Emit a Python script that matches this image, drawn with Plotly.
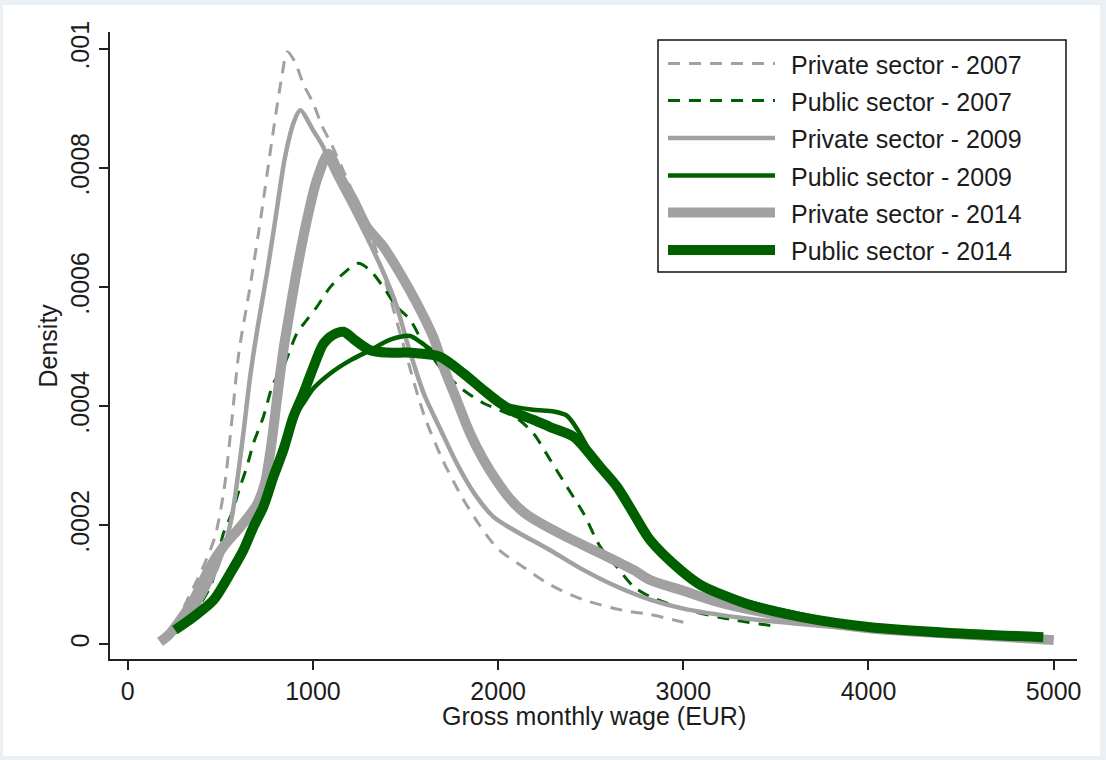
import plotly.graph_objects as go

# Kernel density estimates of gross monthly wages (EUR), by sector and year
priv07_w = [174, 250, 330, 400, 470, 520, 560, 600, 660, 720, 780, 830, 862, 900, 950, 1000, 1050,
            1100, 1200, 1300, 1400, 1500, 1600, 1700, 1800, 1900, 2000, 2135, 2281, 2459, 2675, 2821, 3000]
priv07_d = [0.000005, 0.00003, 0.00008, 0.000125, 0.00018, 0.00026, 0.00037, 0.00049, 0.0006, 0.00072,
            0.00085, 0.00095, 0.000995, 0.00098, 0.00094, 0.00091, 0.00087, 0.00084, 0.00077, 0.0007,
            0.0006, 0.00049, 0.000385, 0.00031, 0.00025, 0.0002, 0.00016, 0.00013, 0.0001, 0.000075,
            0.000057, 0.00005, 0.000037]

pub07_w = [250, 350, 450, 516, 562, 607, 643, 678, 732, 786, 840, 913, 967, 1021, 1093, 1165, 1245,
           1309, 1380, 1453, 1525, 1597, 1700, 1800, 1921, 2011, 2100, 2191, 2281, 2371, 2461, 2551,
           2641, 2731, 2821, 3000, 3200, 3500]
pub07_d = [0.00002, 0.00005, 0.0001, 0.000186, 0.00022, 0.000265, 0.000298, 0.000337, 0.000382,
           0.000438, 0.000466, 0.000522, 0.000545, 0.000567, 0.0006, 0.000623, 0.00064, 0.000628,
           0.0006, 0.000567, 0.000545, 0.000505, 0.00046, 0.00043, 0.000405, 0.000393, 0.00038,
           0.000354, 0.00031, 0.000265, 0.00022, 0.000164, 0.00013, 0.000097, 0.00008, 0.00006,
           0.000045, 0.00003]

priv09_w = [200, 250, 336, 444, 516, 562, 589, 624, 661, 700, 750, 800, 850, 900, 931, 1002, 1056,
            1100, 1200, 1291, 1380, 1450, 1520, 1600, 1690, 1780, 1870, 1975, 2084, 2281, 2460, 2640,
            2820, 3000, 3300, 3600, 4000, 4500, 5000]
priv09_d = [0.000005, 0.00002, 0.000046, 0.000103, 0.000158, 0.000214, 0.00027, 0.000354, 0.00045,
            0.00053, 0.00062, 0.00072, 0.00082, 0.00088, 0.000897, 0.000863, 0.000835, 0.0008,
            0.00074, 0.000684, 0.000625, 0.00057, 0.000495, 0.00042, 0.00036, 0.000302, 0.000254,
            0.000214, 0.000192, 0.000158, 0.000125, 0.000097, 0.000075, 0.00006, 0.000045, 0.000035,
            0.000025, 0.000018, 0.00001]

pub09_w = [255, 354, 462, 553, 624, 678, 732, 786, 840, 894, 948, 1003, 1093, 1201, 1309, 1417, 1525,
           1579, 1650, 1750, 1850, 1950, 2050, 2191, 2300, 2371, 2430, 2500, 2600, 2700, 2821, 3000,
           3200, 3500, 4000, 4500, 4950]
pub09_d = [0.00002, 0.00004, 0.00007, 0.000115, 0.000155, 0.000195, 0.00024, 0.00029, 0.00034,
           0.00038, 0.000405, 0.00043, 0.000455, 0.000477, 0.000494, 0.000512, 0.000518, 0.000508,
           0.000492, 0.000475, 0.00045, 0.00042, 0.000402, 0.000394, 0.000391, 0.000384, 0.00036,
           0.000322, 0.00028, 0.000235, 0.000175, 0.00012, 0.000085, 0.00006, 0.00003, 0.00002,
           0.000012]

priv14_w = [174, 228, 354, 444, 516, 607, 661, 700, 740, 775, 805, 840, 867, 913, 967, 1021, 1084,
            1147, 1219, 1291, 1380, 1471, 1561, 1650, 1705, 1777, 1849, 1921, 1993, 2065, 2137, 2209,
            2371, 2551, 2731, 2821, 3000, 3200, 3500, 4000, 4500, 5000]
priv14_d = [0.000004, 0.000018, 0.000074, 0.00013, 0.000164, 0.000197, 0.000218, 0.000236, 0.00027,
            0.000335, 0.00041, 0.000494, 0.000545, 0.000628, 0.000712, 0.00078, 0.000824, 0.000785,
            0.000746, 0.000701, 0.000668, 0.000623, 0.000573, 0.000516, 0.000466, 0.00041, 0.000354,
            0.00031, 0.000274, 0.000244, 0.000222, 0.000207, 0.00018, 0.000153, 0.000125, 0.000108,
            0.00009, 0.00007, 0.00005, 0.000027, 0.000017, 0.000007]

pub14_w = [255, 354, 462, 553, 624, 678, 732, 786, 840, 894, 948, 1003, 1057, 1110, 1165, 1230, 1309,
           1400, 1500, 1561, 1687, 1813, 1921, 2011, 2101, 2191, 2281, 2407, 2461, 2551, 2641, 2731,
           2821, 2984, 3092, 3361, 3631, 4000, 4441, 4944]
pub14_d = [0.000024, 0.000046, 0.000074, 0.000119, 0.000158, 0.000197, 0.000231, 0.000281, 0.000326,
           0.000382, 0.000421, 0.000466, 0.000505, 0.00052, 0.000525, 0.00051, 0.000494, 0.00049,
           0.00049, 0.000489, 0.000483, 0.000455, 0.000427, 0.000405, 0.000388, 0.000377, 0.000365,
           0.000349, 0.000332, 0.000298, 0.000265, 0.00022, 0.000175, 0.000125, 0.0001, 0.000066,
           0.000046, 0.000029, 0.000019, 0.000012]

x_ticks = [0, 1000, 2000, 3000, 4000, 5000]
y_ticks = [0, 0.0002, 0.0004, 0.0006, 0.0008, 0.001]
y_tick_text = ["0", ".0002", ".0004", ".0006", ".0008", ".001"]

GRAY = "#a1a1a1"
GREEN = "#006000"
INK = "#1c1c1c"
FONT = "Liberation Sans, Arial, sans-serif"

series = [
    ("Private sector - 2007", priv07_w, priv07_d, GRAY, 3, "12px,9px"),
    ("Public sector - 2007", pub07_w, pub07_d, GREEN, 3, "12px,9px"),
    ("Private sector - 2009", priv09_w, priv09_d, GRAY, 4.5, "solid"),
    ("Public sector - 2009", pub09_w, pub09_d, GREEN, 4.5, "solid"),
    ("Private sector - 2014", priv14_w, priv14_d, GRAY, 10, "solid"),
    ("Public sector - 2014", pub14_w, pub14_d, GREEN, 10, "solid"),
]

fig = go.Figure()
for name, w, d, color, width, dash in series:
    fig.add_trace(go.Scatter(
        x=w, y=d, mode="lines", name=name, showlegend=False,
        line=dict(color=color, width=width, dash=dash, shape="spline", smoothing=0.8),
    ))

# plot-area geometry in pixels, used to place the framed key
L, R, T, B = 110, 1077, 32, 659


def fx(p):
    return (p - L) / (R - L)


def fy(p):
    return (B - p) / (B - T)


shapes = [
    # white page inside a light outer frame
    dict(type="rect", xref="paper", yref="paper", x0=fx(3), x1=fx(1100), y0=fy(756), y1=fy(5),
         fillcolor="white", line=dict(width=0), layer="below"),
    # key box
    dict(type="rect", xref="paper", yref="paper", x0=fx(658), x1=fx(1066), y0=fy(272), y1=fy(40),
         fillcolor="white", line=dict(color="#111111", width=1.5), layer="above"),
]
annotations = []
row_y = [63.5, 100.5, 138, 175.5, 212.5, 250]
for (name, w, d, color, width, dash), yy in zip(series, row_y):
    shapes.append(dict(type="line", xref="paper", yref="paper", x0=fx(668), x1=fx(775),
                       y0=fy(yy), y1=fy(yy), layer="above",
                       line=dict(color=color, width=width, dash=dash)))
    annotations.append(dict(text=name, xref="paper", yref="paper", x=fx(789), y=fy(yy + 1),
                            xanchor="left", yanchor="middle", showarrow=False,
                            font=dict(family=FONT, size=25, color=INK)))

annotations.append(dict(text="Gross monthly wage (EUR)", xref="paper", yref="paper",
                        x=0.5, y=fy(700), xanchor="center", yanchor="top", showarrow=False,
                        font=dict(family=FONT, size=25, color=INK)))
annotations.append(dict(text="Density", xref="paper", yref="paper", textangle=-90,
                        x=fx(47), y=0.5, xanchor="center", yanchor="middle", showarrow=False,
                        font=dict(family=FONT, size=25, color=INK)))

fig.update_layout(
    width=1106, height=760,
    margin=dict(l=L, r=1106 - R, t=T, b=760 - B),
    paper_bgcolor="#eaf0f4", plot_bgcolor="white",
    shapes=shapes, annotations=annotations,
    font=dict(family=FONT, size=25, color=INK),
    showlegend=False,
)
fig.update_xaxes(
    range=[-96, 5126], tickvals=x_ticks, ticktext=[str(v) for v in x_ticks],
    showgrid=False, zeroline=False, showline=True, linecolor="#222222", linewidth=1.5,
    ticks="outside", ticklen=9, tickwidth=1.5, tickcolor="#222222",
    tickfont=dict(family=FONT, size=25, color=INK),
)
fig.update_yaxes(
    range=[-0.0000247, 0.0010286], tickvals=y_ticks, ticktext=y_tick_text, tickangle=-90,
    showgrid=False, zeroline=False, showline=True, linecolor="#222222", linewidth=1.5,
    ticks="outside", ticklen=9, tickwidth=1.5, tickcolor="#222222",
    tickfont=dict(family=FONT, size=25, color=INK),
)

fig.write_html("out.html")
